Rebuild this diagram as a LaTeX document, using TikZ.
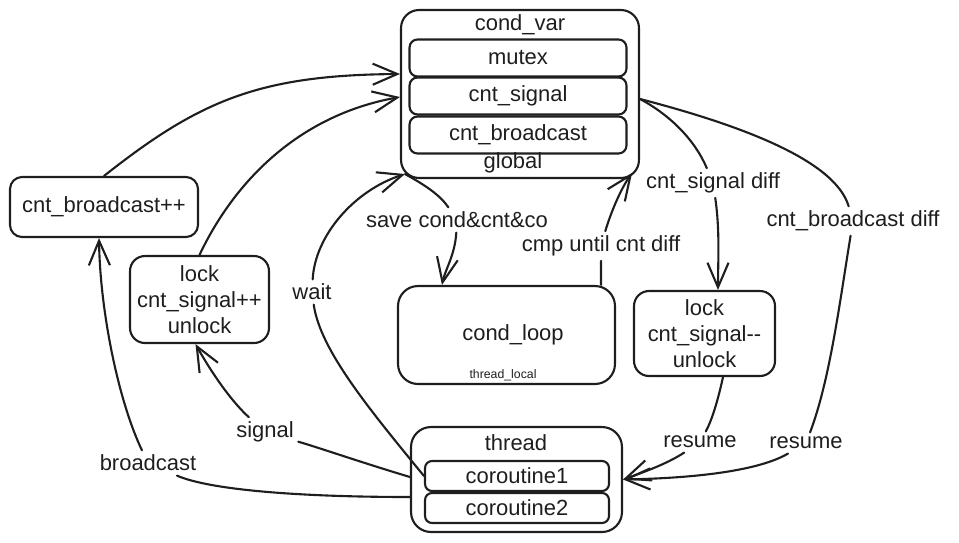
\documentclass[tikz,border=0pt]{standalone}
\usepackage{fontspec}
\setmainfont{Liberation Sans}
\usetikzlibrary{arrows.meta}
\definecolor{ink}{HTML}{1E1E1E}
\tikzset{
	box/.style={draw=ink, rounded corners=0.36cm},
	field/.style={draw=ink, rounded corners=0.16cm, minimum width=4.34cm, minimum height=0.74cm},
	lbl/.style={text=ink, inner sep=2pt},
	arr/.style={-{Straight Barb[length=14pt,width=12pt]}}
}
\begin{document}
\begin{tikzpicture}[x=0.02cm, y=-0.02cm, very thick, draw=ink, line cap=round, line join=round, font=\fontsize{12.5}{14.7}\selectfont, text=ink]
		\useasboundingbox (0,0) rectangle (959,542);
		% global state
		\node[box, minimum width=4.76cm, minimum height=3.36cm] (cv) at (520,94) {};
		\node[lbl] (cvname) at (520,25) {cond\_var};
		\node[field] (mtx) at (518,58) {mutex};
		\node[field] (sig) at (518,96) {cnt\_signal};
		\node[field] (bcast) at (518,135) {cnt\_broadcast};
		\node[lbl] (glob) at (513,163) {global};
		% side boxes
		\node[box, rounded corners=0.24cm, minimum width=3.76cm, minimum height=1.2cm] (bcinc) at (104,207) {cnt\_broadcast++};
		\node[box, rounded corners=0.3cm, minimum width=2.78cm, minimum height=1.74cm, align=center] (sinc) at (199.5,299.5) {lock\\cnt\_signal++\\unlock};
		\node[box, rounded corners=0.4cm, minimum width=4.34cm, minimum height=1.96cm] (loop) at (506.5,335) {};
		\node[lbl] (loopname) at (513,335) {cond\_loop};
		\node[lbl, font=\fontsize{7}{8}\selectfont] (tloc) at (503,375) {thread\_local};
		\node[box, rounded corners=0.3cm, minimum width=2.82cm, minimum height=1.7cm, align=center] (sdec) at (704.5,333.5) {lock\\cnt\_signal-{}-\\unlock};
		% thread
		\node[box, rounded corners=0.4cm, minimum width=4.22cm, minimum height=2.1cm] (thr) at (516.5,479.5) {};
		\node[lbl] (thrname) at (516,443) {thread};
		\node[field, rounded corners=0.14cm, minimum width=3.68cm, minimum height=0.6cm] (co1) at (517,476) {coroutine1};
		\node[field, rounded corners=0.14cm, minimum width=3.68cm, minimum height=0.6cm] (co2) at (517,508) {coroutine2};
		% labels
		\node[lbl] (lbcast) at (148,463) {broadcast};
		\node[lbl] (lsig) at (265,432) {signal};
		\node[lbl] (lwait) at (312,292) {wait};
		\node[lbl] (lsave) at (457,220) {save cond\&cnt\&co};
		\node[lbl] (lcmp) at (601,246) {cmp until cnt diff};
		\node[lbl] (lsdiff) at (713,183) {cnt\_signal diff};
		\node[lbl] (lbdiff) at (853,221) {cnt\_broadcast diff};
		\node[lbl] (lres1) at (700,442) {resume};
		\node[lbl] (lres2) at (806,443) {resume};
		% connectors
		\draw[arr] (bcinc.north) .. controls (200,100) and (260,75) .. ([yshift=0.4cm]cv.west);
		\draw[arr] (sinc.north) .. controls (235,180) and (300,115) .. ([yshift=-0.06cm]cv.west);
		\draw ([yshift=-0.35cm]thr.west) .. controls (300,497) and (210,490) .. (lbcast);
		\draw[arr] (lbcast) .. controls (118,400) and (100,310) .. ([xshift=-0.1cm]bcinc.south);
		\draw ([yshift=0.05cm]thr.west) .. controls (360,462) and (320,448) .. (lsig);
		\draw[arr] (lsig) .. controls (230,400) and (210,370) .. ([xshift=-0.08cm]sinc.south);
		\draw (co1.west) .. controls (370,410) and (320,350) .. (lwait);
		\draw[arr] (lwait) .. controls (315,235) and (355,190) .. ([shift={(0.1cm,0.1cm)}]cv.south west);
		\draw ([shift={(0.1cm,0.1cm)}]cv.south west) .. controls (425,185) and (440,195) .. (lsave);
		\draw[arr] (lsave) .. controls (455,255) and (445,270) .. ([xshift=0.9cm]loop.north west);
		\draw ([xshift=-0.3cm]loop.north east) -- (lcmp);
		\draw[arr] (lcmp) .. controls (610,215) and (620,190) .. ([shift={(-0.16cm,0.12cm)}]cv.south east);
		\draw ([yshift=-0.1cm]cv.east) .. controls (670,115) and (695,140) .. (lsdiff);
		\draw[arr] (lsdiff) .. controls (720,230) and (718,260) .. ([xshift=0.27cm]sdec.north);
		\draw ([yshift=-0.1cm]cv.east) .. controls (740,125) and (835,160) .. (lbdiff);
		\draw (lbdiff) .. controls (840,300) and (830,380) .. (lres2);
		\draw[arr] (lres2) .. controls (760,470) and (700,478) .. (thr.east);
		\draw ([xshift=0.37cm]sdec.south) .. controls (718,400) and (712,420) .. (lres1);
		\draw[arr] (lres1) .. controls (670,462) and (650,470) .. (thr.east);
	\end{tikzpicture}
\end{document}
